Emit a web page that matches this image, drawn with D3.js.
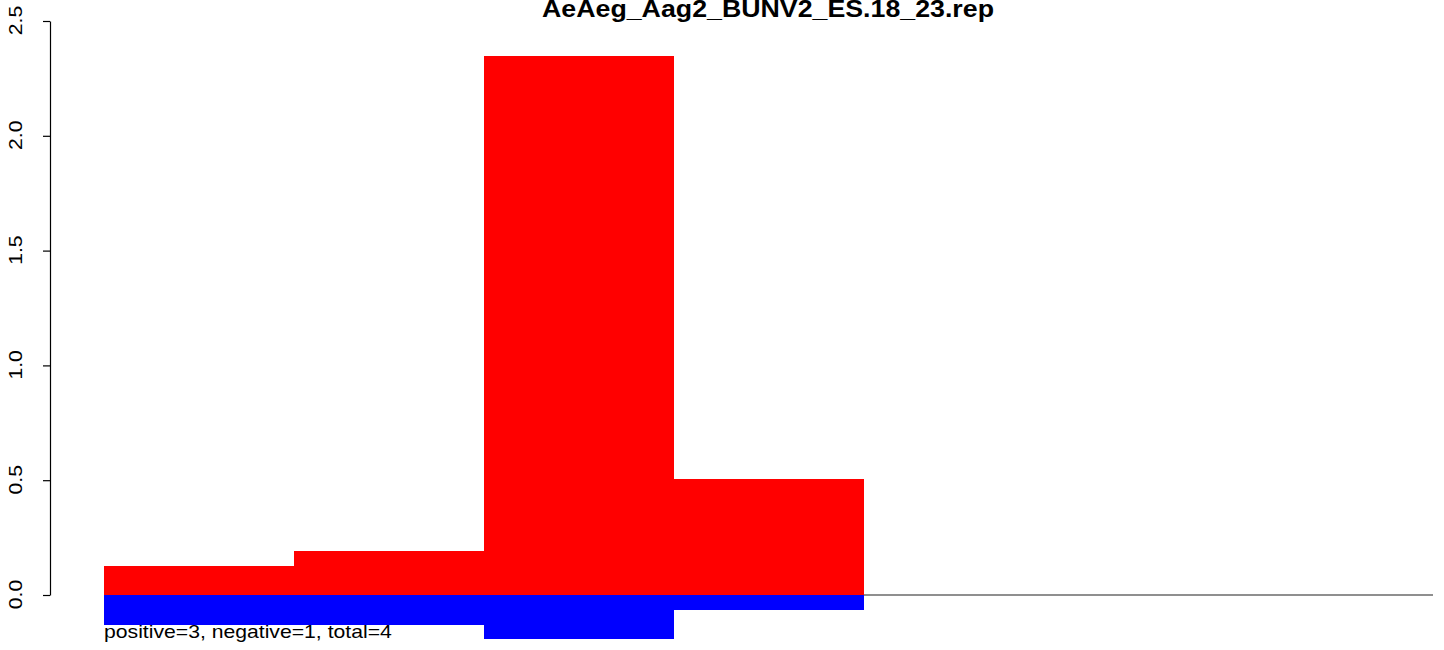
<!DOCTYPE html>
<html><head><meta charset="utf-8">
<script src="https://cdn.jsdelivr.net/npm/d3@7"></script>
<style>body{margin:0;background:#fff}svg{display:block}</style>
</head><body>
<script>
const title = "AeAeg_Aag2_BUNV2_ES.18_23.rep";
const categories = ["1","2","3","4","5","6","7"];
const positiveValues = [0.126, 0.19, 2.348, 0.505];
const negativeValues = [-0.13, -0.13, -0.19, -0.065];
const yTicks = [0, 0.5, 1.0, 1.5, 2.0, 2.5];
const note = "positive=3, negative=1, total=4";

const W = 1444, H = 650;
const FONT = "Liberation Sans, Arial, Helvetica, sans-serif";
const STRETCH = 1.115;
const svg = d3.select("body").append("svg").attr("width", W).attr("height", H);

const x = d3.scaleBand().domain(categories).range([104, 1433]).padding(0);
const y = d3.scaleLinear().domain([0, 2.5]).range([595, 21]);

// baseline
svg.append("line").attr("x1", 104).attr("x2", 1433).attr("y1", y(0)).attr("y2", y(0))
  .attr("stroke", "#6a6a6a").attr("stroke-width", 1.4);

svg.append("g").attr("shape-rendering", "crispEdges").selectAll("rect").data(positiveValues).join("rect")
  .attr("x", (d,i) => x(categories[i])).attr("width", x.bandwidth() + 0.5)
  .attr("y", d => y(d)).attr("height", d => y(0) - y(d)).attr("fill", "#ff0000");

svg.append("g").attr("shape-rendering", "crispEdges").selectAll("rect").data(negativeValues).join("rect")
  .attr("x", (d,i) => x(categories[i])).attr("width", x.bandwidth() + 0.5)
  .attr("y", y(0)).attr("height", d => y(d) - y(0)).attr("fill", "#0000ff");

// y axis
const ax = svg.append("g").attr("transform", "translate(50,0)")
  .call(d3.axisLeft(y).tickValues(yTicks).tickFormat(d3.format(".1f")).tickSize(7).tickSizeOuter(0));
ax.select(".domain").attr("stroke", "#000").attr("stroke-width", 1.2);
ax.selectAll(".tick line").attr("stroke", "#000").attr("stroke-width", 1.2);
ax.selectAll(".tick text")
  .attr("font-family", FONT).attr("font-size", 19).attr("fill", "#000")
  .attr("x", null).attr("y", null).attr("dx", null).attr("dy", null)
  .attr("text-anchor", "middle")
  .attr("transform", `translate(-28,-1) rotate(-90) scale(${STRETCH},1)`);

svg.append("text")
  .attr("transform", `translate(768,16.5) scale(${STRETCH},1)`)
  .attr("text-anchor", "middle")
  .attr("font-family", FONT).attr("font-weight", "bold")
  .attr("font-size", 24).text(title);

svg.append("text")
  .attr("transform", `translate(104,638) scale(${STRETCH},1)`)
  .attr("font-family", FONT)
  .attr("font-size", 19).attr("fill", "#000").text(note);
</script>
</body></html>
